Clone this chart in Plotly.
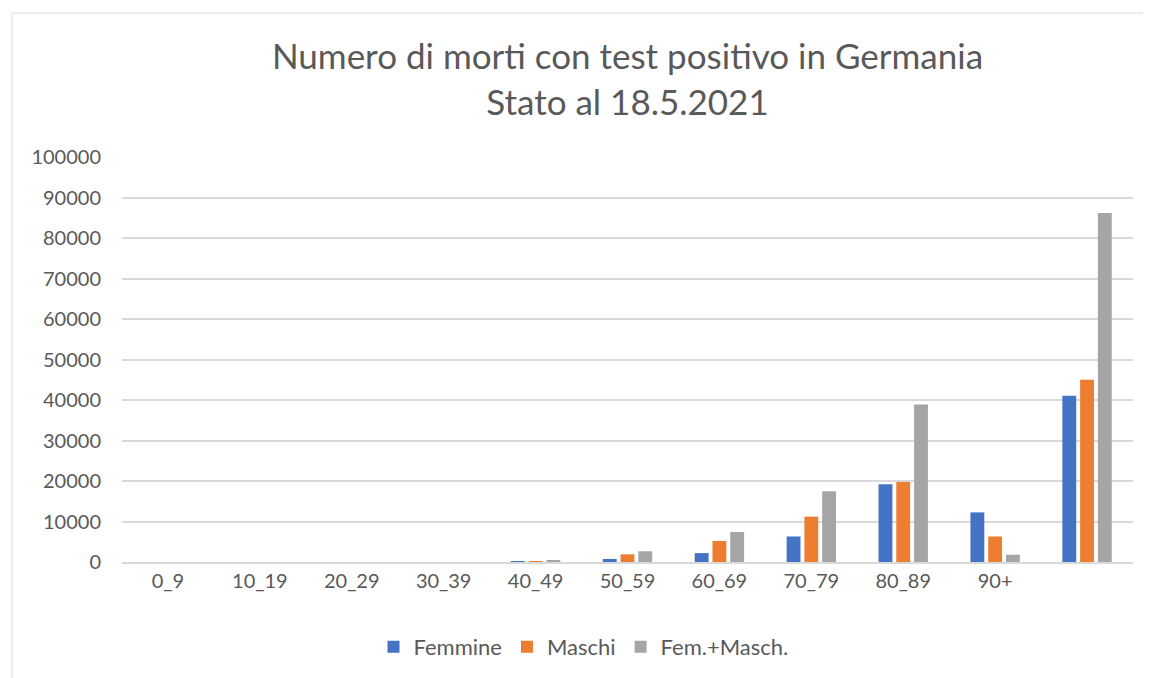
import plotly.graph_objects as go

categories = ["0_9", "10_19", "20_29", "30_39", "40_49", "50_59", "60_69", "70_79", "80_89", "90+", " "]
femmine = [0, 0, 0, 0, 40, 750, 2200, 6300, 19200, 12250, 41050]
maschi = [0, 0, 0, 0, 150, 1900, 5200, 11200, 19750, 6300, 45000]
fem_masch = [0, 0, 0, 0, 400, 2650, 7400, 17500, 38900, 1800, 86200]

colors = ["#4472C4", "#ED7D31", "#A5A5A5"]
names = ["Femmine", "Maschi", "Fem.+Masch."]
font_family = "Lato, 'Open Sans', sans-serif"

W, H = 1151, 678
border_left = -110 / 1011
border_top = (562 - 13) / 405

fig = go.Figure()
for name, vals, col in zip(names, [femmine, maschi, fem_masch], colors):
    fig.add_trace(go.Bar(x=categories, y=vals, name=name, marker=dict(color=col, line=dict(width=0))))

fig.update_layout(
    width=W, height=H,
    paper_bgcolor="white", plot_bgcolor="white",
    margin=dict(l=114, r=26, t=149, b=124, autoexpand=False),
    barmode="group", bargap=0.42, bargroupgap=0.22,
    font=dict(family=font_family, color="#595959", size=20),
    title=dict(
        text="Numero di morti con test positivo in Germania<br>Stato al 18.5.2021",
        x=0.5, xref="paper", xanchor="center",
        y=1 - 61/H, yanchor="top", yref="container",
        font=dict(size=35, color="#595959", family=font_family),
    ),
    legend=dict(orientation="h", x=0.5, xanchor="center", xref="container",
                y=(H-639)/H, yref="container", yanchor="middle",
                font=dict(size=22, color="#595959"), itemwidth=30, traceorder="normal"),
    shapes=[
        dict(type="line", xref="paper", yref="paper",
             x0=border_left, x1=1.2, y0=border_top, y1=border_top,
             line=dict(color="#d9d9d9", width=1), layer="below"),
        dict(type="line", xref="paper", yref="paper",
             x0=border_left, x1=border_left, y0=-0.4, y1=border_top,
             line=dict(color="#d9d9d9", width=1), layer="below"),
    ],
)
fig.update_xaxes(type="category", showgrid=False, showline=True, linecolor="#d9d9d9", linewidth=1.5,
                 ticks="", tickfont=dict(size=20, color="#595959"), ticklabelstandoff=0)
fig.update_yaxes(range=[0, 100000], dtick=10000, showgrid=True, gridcolor="#d9d9d9", gridwidth=1.5,
                 zeroline=False, showline=False, tickformat="d",
                 tickfont=dict(size=20, color="#595959"), ticklabelstandoff=20)

fig.write_html("out.html")
